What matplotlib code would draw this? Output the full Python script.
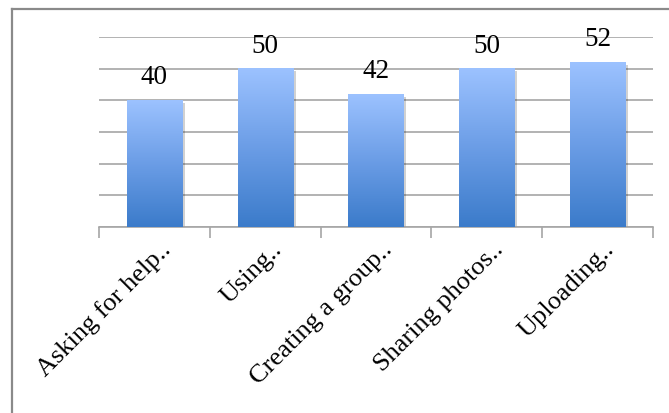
import numpy as np
import matplotlib
matplotlib.use("Agg")
import matplotlib.pyplot as plt
from matplotlib.colors import LinearSegmentedColormap
from matplotlib.lines import Line2D
from matplotlib.transforms import ScaledTranslation
import matplotlib.patheffects as pe

categories = ["Asking for help..", "Using..", "Creating a group..", "Sharing photos..", "Uploading.."]
values = [40, 50, 42, 50, 52]
yticks = [0, 10, 20, 30, 40, 50, 60]

W, H = 669, 414
fig = plt.figure(figsize=(W / 100, H / 100), dpi=100)
fig.patch.set_facecolor("white")

ax = fig.add_axes([99 / W, 1 - 228 / H, (653 - 99) / W, (228 - 38) / H])
ax.set_xlim(-0.5, len(categories) - 0.5)
ax.set_ylim(0, 60)

grid_c = "#a6a6a6"
ax.set_yticks(yticks)
ax.yaxis.grid(True, color=grid_c, linewidth=1.2)
ax.set_axisbelow(True)
ax.tick_params(axis="y", length=0, labelleft=False)
for s in ["left", "right", "top"]:
    ax.spines[s].set_visible(False)
ax.spines["bottom"].set_color(grid_c)
ax.spines["bottom"].set_linewidth(1.2)

x = np.arange(len(categories))
bars = ax.bar(x, values, width=0.5, color="#6a9fe6", zorder=2,
              path_effects=[pe.SimplePatchShadow(offset=(2, -2), shadow_rgbFace="#000000", alpha=0.18), pe.Normal()])

cmap = LinearSegmentedColormap.from_list("g", ["#3b7bca", "#6b9de6", "#9cc2ff"])
grad = np.linspace(0, 1, 256).reshape(-1, 1)
for b in bars:
    bx, bw, bh = b.get_x(), b.get_width(), b.get_height()
    ax.imshow(grad, cmap=cmap, origin="lower", aspect="auto",
              extent=[bx, bx + bw, 0, bh], zorder=3, interpolation="bicubic")
    ax.annotate(f"{bh:g}", (bx + bw / 2, bh), xytext=(0, 8), textcoords="offset points",
                ha="center", va="bottom", fontsize=19.5, family="Liberation Serif", color="#000000", zorder=4)
ax.set_xlim(-0.5, len(categories) - 0.5)
ax.set_ylim(0, 60)

ax.set_xticks(x)
ax.set_xticklabels(categories, rotation=45, ha="right", va="center", rotation_mode="anchor",
                   fontsize=19, family="Liberation Serif", color="#000000")
ax.tick_params(axis="x", which="major", length=0, pad=13)
ax.set_xticks(np.arange(-0.5, len(categories), 1.0), minor=True)
ax.tick_params(axis="x", which="minor", length=8, color=grid_c, width=1.2, direction="out")
off = ScaledTranslation(0.13, 0, fig.dpi_scale_trans)
for lab in ax.get_xticklabels():
    lab.set_transform(lab.get_transform() + off)

bc = "#8a8a8a"
fig.add_artist(Line2D([12 / W, 1.0], [1 - 9.5 / H, 1 - 9.5 / H], color=bc, linewidth=1.6, transform=fig.transFigure))
fig.add_artist(Line2D([12 / W, 12 / W], [1 - 9.5 / H, 0.0], color=bc, linewidth=1.6, transform=fig.transFigure))

fig.savefig("out.png", dpi=100)
